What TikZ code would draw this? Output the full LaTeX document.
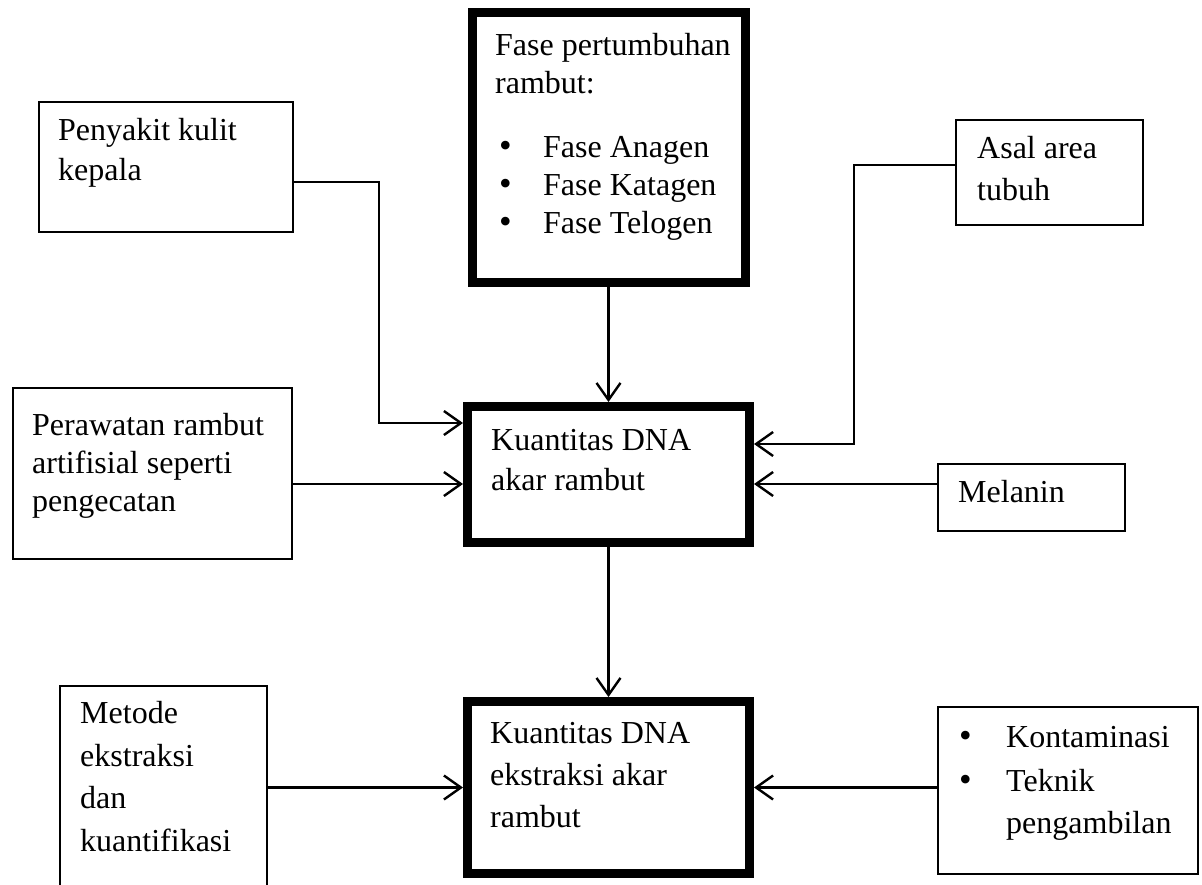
\documentclass[tikz,border=0pt]{standalone}
\usepackage{fontspec}
\setmainfont{Liberation Serif}
\usetikzlibrary{arrows.meta}
\begin{document}
\begin{tikzpicture}[x=1pt,y=-1pt,
  thinbox/.style={draw, line width=2.4pt, inner sep=0pt, rectangle},
  thickbox/.style={draw, line width=9pt, inner sep=0pt, rectangle},
  txt/.style={anchor=base west, inner sep=0pt, font=\fontsize{32}{38}\selectfont},
  bul/.style={anchor=base west, inner sep=0pt, font=\fontsize{36}{38}\selectfont},
  arr/.style={line width=2.4pt, -{Straight Barb[length=17pt,width=24pt]}}]
\useasboundingbox (0,0) rectangle (1202,884);
\clip (0,0) rectangle (1202,884);
% boxes
\node[thinbox, minimum width=253.6pt, minimum height=129.6pt] (pen) at (166,167) {};
\node[thickbox, minimum width=273pt, minimum height=270pt] (fase) at (608.5,147.5) {};
\node[thinbox, minimum width=186.6pt, minimum height=104.6pt] (asal) at (1049.5,172.5) {};
\node[thinbox, minimum width=278.6pt, minimum height=170.6pt] (per) at (152.5,473.5) {};
\node[thickbox, minimum width=282pt, minimum height=136pt] (main) at (608.5,474.5) {};
\node[thinbox, minimum width=186.6pt, minimum height=66.6pt] (mel) at (1031.5,497.5) {};
\node[thinbox, minimum width=206.6pt, minimum height=217.6pt] (met) at (163.5,795) {};
\node[thickbox, minimum width=282pt, minimum height=172pt] (bot) at (608.5,787.5) {};
\node[thinbox, minimum width=259.6pt, minimum height=166.6pt] (kon) at (1068,790.5) {};
% texts
\node[txt] (t1) at (58,140) {Penyakit kulit};
\node[txt] (t2) at (58,180) {kepala};
\node[txt] (t3) at (495,55) {Fase pertumbuhan};
\node[txt] (t4) at (495,93) {rambut:};
\node[bul] (b1) at (499,157) {•};
\node[txt] (t5) at (543,157) {Fase Anagen};
\node[bul] (b2) at (499,195) {•};
\node[txt] (t6) at (543,195) {Fase Katagen};
\node[bul] (b3) at (499,233) {•};
\node[txt] (t7) at (543,233) {Fase Telogen};
\node[txt] (t8) at (977,158) {Asal area};
\node[txt] (t9) at (977,200) {tubuh};
\node[txt] (t10) at (32,435) {Perawatan rambut};
\node[txt] (t11) at (32,473) {artifisial seperti};
\node[txt] (t12) at (32,511) {pengecatan};
\node[txt] (t13) at (491,450) {Kuantitas DNA};
\node[txt] (t14) at (491,490) {akar rambut};
\node[txt] (t15) at (958,502) {Melanin};
\node[txt] (t16) at (80,723) {Metode};
\node[txt] (t17) at (80,766) {ekstraksi};
\node[txt] (t18) at (80,808) {dan};
\node[txt] (t19) at (80,851) {kuantifikasi};
\node[txt] (t20) at (490,743) {Kuantitas DNA};
\node[txt] (t21) at (490,785) {ekstraksi akar};
\node[txt] (t22) at (490,827) {rambut};
\node[bul] (b4) at (959,747) {•};
\node[txt] (t23) at (1006,747) {Kontaminasi};
\node[bul] (b5) at (959,791) {•};
\node[txt] (t24) at (1006,791) {Teknik};
\node[txt] (t25) at (1006,833) {pengambilan};
% connectors
\coordinate (penbend) at (379,182);
\coordinate (penin) at ([yshift=51.5pt]main.west);
\draw[arr] ([yshift=-15pt]pen.east) -- (penbend) |- (penin);
\coordinate (perin) at ([yshift=-9.5pt]main.west);
\draw[arr] (per.east |- perin) -- (perin);
\draw[arr] (fase.south) -- (main.north);
\coordinate (asalbend) at (854,165);
\coordinate (asalin) at ([yshift=30.5pt]main.east);
\draw[arr] ([yshift=7.5pt]asal.west) -- (asalbend) |- (asalin);
\coordinate (melin) at ([yshift=-9.5pt]main.east);
\draw[arr] (mel.west |- melin) -- (melin);
\draw[arr] (main.south) -- (bot.north);
\draw[arr] (met.east |- bot.west) -- (bot.west);
\draw[arr] (kon.west |- bot.east) -- (bot.east);
\end{tikzpicture}
\end{document}
